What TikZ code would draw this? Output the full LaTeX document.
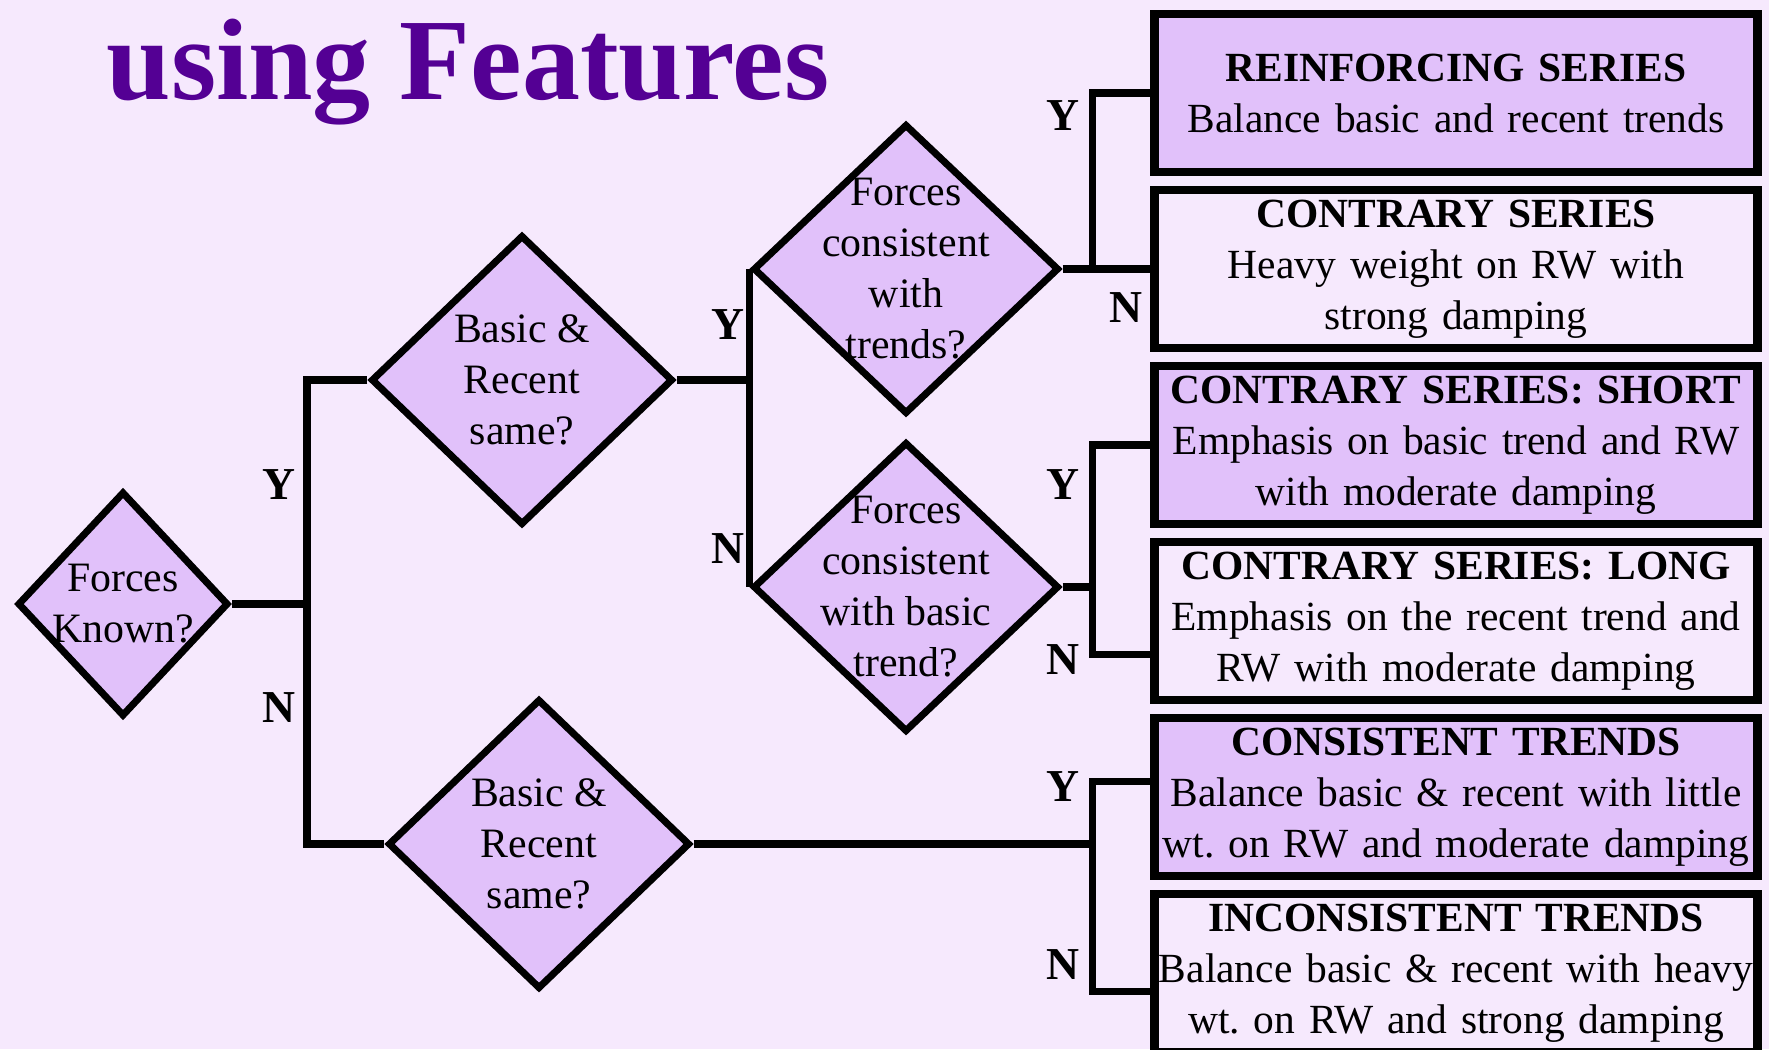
\documentclass[tikz,border=0pt]{standalone}
\usepackage{fontspec}
\setmainfont{Liberation Serif}
\usetikzlibrary{shapes.geometric, positioning}
\definecolor{pagebg}{RGB}{246,233,253}
\definecolor{lilac}{RGB}{225,193,250}
\definecolor{titlepurple}{RGB}{84,0,148}

\begin{document}
\begin{tikzpicture}[x=0.1mm, y=-0.1mm,
    question/.style={diamond, draw, line width=2pt, fill=lilac, inner sep=0pt},
    qtext/.style={align=center, font=\fontsize{11.9}{14.5}\selectfont},
    outcome/.style={rectangle, draw, line width=2.3pt, minimum width=6.03cm, minimum height=1.58cm, text width=5.95cm, align=center, inner sep=0pt, font=\fontsize{11.8}{14.5}\selectfont},
    link/.style={line width=2.1pt},
    yn/.style={font=\fontsize{13}{15}\selectfont\bfseries}]

    \useasboundingbox (0,0) rectangle (1769,1049);
    \fill[pagebg] (0,0) rectangle (1769,1049);

    \node[font=\fontsize{33}{38}\selectfont\bfseries, text=titlepurple, anchor=base] (title) at (468,99) {using Features};

    % decisions
    \node[question, minimum width=2.11cm, minimum height=2.25cm, label={[qtext]center:Forces\\Known?}] (known) at (123,604) {};
    \node[question, minimum width=3.02cm, minimum height=2.9cm, label={[qtext]center:Basic \&\\Recent\\same?}] (same1) at (522,380) {};
    \node[question, minimum width=3.02cm, minimum height=2.9cm, label={[qtext]center:Basic \&\\Recent\\same?}] (same2) at (539,844) {};
    \node[question, minimum width=3.06cm, minimum height=2.9cm, label={[qtext]center:Forces\\consistent\\with\\trends?}] (cons1) at (906,269) {};
    \node[question, minimum width=3.06cm, minimum height=2.9cm, label={[qtext]center:Forces\\consistent\\with basic\\trend?}] (cons2) at (906,587) {};

    % outcomes
    \node[outcome, fill=lilac] (reinf) at (1456,93) {\textbf{REINFORCING SERIES}\\Balance basic and recent trends};
    \node[outcome, below=1mm of reinf] (contr) {\textbf{CONTRARY SERIES}\\Heavy weight on RW with\\strong damping};
    \node[outcome, fill=lilac, below=1mm of contr] (short) {\textbf{CONTRARY SERIES: SHORT}\\Emphasis on basic trend and RW\\with moderate damping};
    \node[outcome, below=1mm of short] (long) {\textbf{CONTRARY SERIES: LONG}\\Emphasis on the recent trend and\\RW with moderate damping};
    \node[outcome, fill=lilac, below=1mm of long] (consis) {\textbf{CONSISTENT TRENDS}\\Balance basic \& recent with little\\wt.\ on RW and moderate damping};
    \node[outcome, below=1mm of consis] (incons) {\textbf{INCONSISTENT TRENDS}\\Balance basic \& recent with heavy\\wt.\ on RW and strong damping};

    % connectors
    \coordinate (kj) at (307,604);
    \draw[link] (known.east) -- (kj);
    \draw[link] (same1.west) -| (kj);
    \draw[link] (same2.west) -| (kj);

    \draw[link] (same1.east) -- (same1.east -| cons1.west);
    \draw[link] (cons1.west) -- (cons2.west);

    \coordinate (cj1) at ([xshift=3mm]cons1.east);
    \draw[link] (cons1.east) -- (contr.west |- cons1.east);
    \draw[link] (cj1) |- (reinf.west);

    \coordinate (cj2) at ([xshift=3mm]cons2.east);
    \draw[link] (cons2.east) -- (cj2);
    \draw[link] (short.west) -| (cj2) |- ([yshift=-3.3mm]long.west);

    \coordinate (cj3) at (same2.east -| cj2);
    \draw[link] (same2.east) -- (cj3);
    \draw[link] ([yshift=1.6mm]consis.west) -| (cj3) |- ([yshift=-1.8mm]incons.west);

    % branch labels
    \node[yn] (y1) at (279,485) {Y};
    \node[yn] (n1) at (279,708) {N};
    \node[yn] (y2) at (728,325) {Y};
    \node[yn] (n2) at (728,549) {N};
    \node[yn] (y3) at (1063,116) {Y};
    \node[yn] (n3) at (1126,308) {N};
    \node[yn] (y4) at (1063,485) {Y};
    \node[yn] (n4) at (1063,660) {N};
    \node[yn] (y5) at (1063,787) {Y};
    \node[yn] (n5) at (1063,965) {N};
\end{tikzpicture}
\end{document}
